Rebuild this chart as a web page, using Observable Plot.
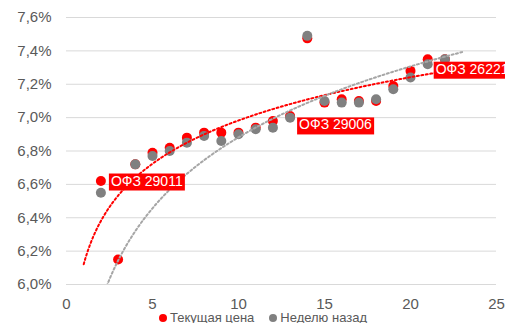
<!DOCTYPE html>
<html><head><meta charset="utf-8">
<script src="https://cdn.jsdelivr.net/npm/d3@7"></script>
<script src="https://cdn.jsdelivr.net/npm/@observablehq/plot@0.6"></script>
<style>
html,body{margin:0;padding:0;background:#fff;overflow:hidden;}
#chart{position:relative;width:505px;height:323px;overflow:hidden;font-family:"Liberation Sans",Arial,sans-serif;}
#chart svg{position:absolute;left:0;top:0;}
#legend{position:absolute;left:159px;top:312px;display:flex;align-items:center;font-size:13px;line-height:12px;color:#595959;white-space:nowrap;}
#legend .item{display:flex;align-items:center;}
#legend .item + .item{margin-left:15px;}
#legend .sw{width:8px;height:8px;border-radius:50%;margin-right:3px;}
#mark{position:absolute;left:0;top:130px;width:7px;height:2px;background:#000;}
</style></head>
<body>
<div id="chart"><div id="mark"></div></div>
<script>
// Current prices (series 1)
const currentX = [2,3,4,5,6,7,8,9,10,11,12,13,14,15,16,17,18,19,20,21,22];
const currentYield = [6.62,6.15,6.72,6.79,6.82,6.88,6.91,6.91,6.91,6.94,6.98,7.01,7.475,7.09,7.11,7.10,7.10,7.19,7.28,7.35,7.35];
// A week ago (series 2); the x=3 value lies below the axis minimum
const weekAgoX = [2,3,4,5,6,7,8,9,10,11,12,13,14,15,16,17,18,19,20,21,22];
const weekAgoYield = [6.55,4.42,6.72,6.77,6.80,6.85,6.89,6.86,6.90,6.93,6.94,7.00,7.49,7.10,7.09,7.09,7.11,7.17,7.24,7.32,7.35];
// Point labels
const labelNames = ["ОФЗ 29011","ОФЗ 29006","ОФЗ 26221"];
const labelX = [2,13,21];
// Series names
const seriesNames = ["Текущая цена","Неделю назад"];
// Ticks
const xTicks = [0,5,10,15,20,25];
const yTicks = [6.0,6.2,6.4,6.6,6.8,7.0,7.2,7.4,7.6];

const RED = "#ff0000", GRAY = "#808080", GRAY_TREND = "#a6a6a6";

const current = currentX.map((x,i)=>({x, y: currentYield[i]}));
const weekAgo = weekAgoX.map((x,i)=>({x, y: weekAgoYield[i]}));

// Logarithmic least-squares trendline (y = a + b ln x), extended one unit each side
function logTrend(data){
  const L = data.map(d=>Math.log(d.x)), Y = data.map(d=>d.y);
  const lm = d3.mean(L), ym = d3.mean(Y);
  const sxy = d3.sum(L, (l,i)=>(l-lm)*(Y[i]-ym));
  const sxx = d3.sum(L, l=>(l-lm)**2);
  const b = sxy/sxx, a = ym - b*lm;
  const [x0,x1] = d3.extent(data, d=>d.x);
  return d3.range(x0-1, x1+1+1e-9, 0.05).map(x=>({x, y: a + b*Math.log(x)}));
}
const trendCurrent = logTrend(current);
const trendWeek = logTrend(weekAgo);

const labels = labelNames.map((name,i)=>{
  const p = current.find(d=>d.x===labelX[i]);
  return {name, x: p.x, y: p.y};
});

const fmt = d => d.toFixed(1).replace(".", ",") + "%";

const labelOffsets = [[10,0],[9,9],[8,10]];
const labelMarks = labels.map((l,i)=>Plot.text([l], {
  x:"x", y:"y", text:"name", textAnchor:"start", fill:"white",
  fontSize:14, dx: labelOffsets[i][0], dy: labelOffsets[i][1]
}));

const svg = Plot.plot({
  width: 505, height: 310,
  marginLeft: 66, marginRight: 9, marginTop: 17, marginBottom: 26,
  style: {fontFamily: '"Liberation Sans", Arial, sans-serif', fontSize: "15px", color: "#595959", background: "white", overflow: "visible"},
  x: {domain: [0,25], ticks: xTicks, label: null},
  y: {domain: [6.0,7.6], ticks: yTicks, label: null},
  marks: [
    Plot.gridY(yTicks, {stroke: "#d9d9d9", strokeOpacity: 1, strokeWidth: 1}),
    Plot.axisY(yTicks, {tickSize: 0, tickPadding: 15, tickFormat: fmt, fill: "#595959", label: null}),
    Plot.axisX(xTicks, {tickSize: 0, tickPadding: 14, tickFormat: d=>String(d), fill: "#595959", label: null}),
    Plot.dot(current, {x:"x", y:"y", r:5, fill: RED, clip: true}),
    Plot.dot(weekAgo, {x:"x", y:"y", r:5, fill: GRAY, clip: true}),
    Plot.line(trendCurrent, {x:"x", y:"y", stroke: RED, strokeWidth: 2, strokeDasharray: "2 2.5", clip: true}),
    Plot.line(trendWeek, {x:"x", y:"y", stroke: GRAY_TREND, strokeWidth: 2, strokeDasharray: "2 2.5", clip: true}),
    ...labelMarks
  ]
});

const chart = document.getElementById("chart");
chart.append(svg);

// red background boxes behind the label texts
Array.from(svg.querySelectorAll("text")).filter(t=>labelNames.includes(t.textContent)).forEach(t=>{
  const b = t.getBBox();
  const r = document.createElementNS("http://www.w3.org/2000/svg","rect");
  r.setAttribute("x", b.x - 2);
  r.setAttribute("y", b.y + 1);
  r.setAttribute("width", b.width + 4);
  r.setAttribute("height", b.height + 1);
  r.setAttribute("fill", RED);
  if (t.getAttribute("transform")) r.setAttribute("transform", t.getAttribute("transform"));
  t.parentNode.insertBefore(r, t);
});

// legend below the SVG
const legend = document.createElement("div");
legend.id = "legend";
[[seriesNames[0], RED],[seriesNames[1], GRAY]].forEach(([name,color])=>{
  const it = document.createElement("div"); it.className = "item";
  const sw = document.createElement("span"); sw.className = "sw"; sw.style.background = color;
  const tx = document.createElement("span"); tx.textContent = name;
  it.append(sw, tx); legend.append(it);
});
chart.append(legend);
</script>
</body></html>
